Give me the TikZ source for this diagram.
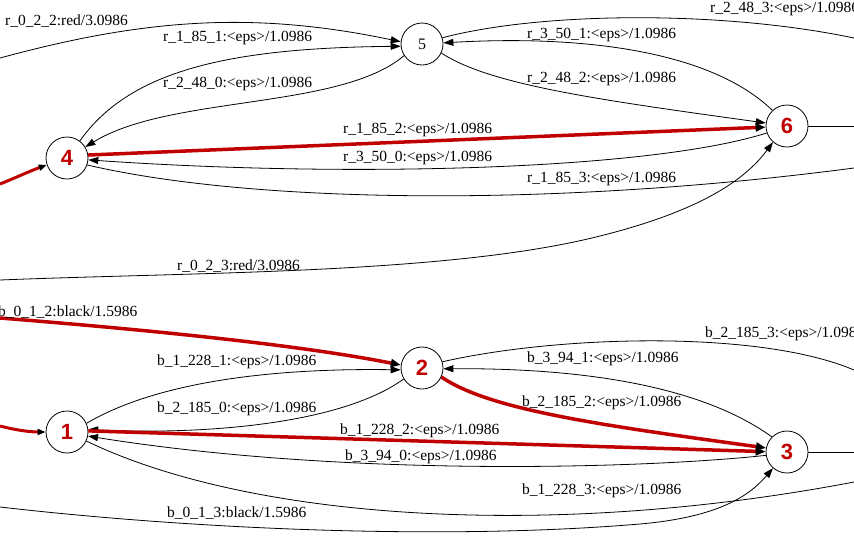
\documentclass[tikz,border=0pt]{standalone}
\usepackage{fontspec}
\setmainfont{Liberation Serif}
\newfontfamily\numfont{Liberation Sans}
\usetikzlibrary{arrows.meta}
\definecolor{dred}{RGB}{192,0,0}
\begin{document}
\begin{tikzpicture}[x=1pt,y=-1pt,
  st/.style={circle,draw,line width=0.8pt,minimum size=42pt,inner sep=0pt},
  stb/.style={st,font=\numfont\bfseries\fontsize{22}{22}\selectfont,text=dred},
  lbl/.style={font=\fontsize{15.5}{18}\selectfont,inner sep=0pt,anchor=west},
  edge/.style={line width=0.8pt,-{Triangle[length=10pt,width=7pt]}},
  plain/.style={line width=0.8pt},
  redge/.style={line width=3.5pt,dred,-{Triangle[length=10pt,width=8pt,color=black]}},
  redinit/.style={line width=3pt,dred,-{Triangle[length=8pt,width=6pt,color=black]}}]
\clip (0,0) rectangle (854,544);
\fill[white] (0,0) rectangle (854,544);
% states
\node[st,font=\fontsize{16}{16}\selectfont] (n5) at (422,44) {5};
\node[stb] (n6) at (787,126) {6};
\node[stb] (n4) at (67,158) {4};
\node[stb] (n2) at (422,368) {2};
\node[stb] (n1) at (67,432) {1};
\node[stb] (n3) at (787,452) {3};
% free ends
\coordinate (a1) at (0,58);
\coordinate (a2) at (854,38);
\coordinate (a3) at (854,126);
\coordinate (a4) at (854,168);
\coordinate (a5) at (0,280);
\coordinate (a6) at (0,184);
\coordinate (b1) at (0,318);
\coordinate (b2) at (854,370);
\coordinate (b3) at (854,452);
\coordinate (b4) at (854,482);
\coordinate (b5) at (0,507);
\coordinate (b6) at (0,426);
% top edges
\draw[edge] (a1) .. controls (140,20) and (250,10) .. (n5.174);
\draw[edge] (n4.53) .. controls (130,70) and (230,48) .. (n5.186);
\draw[edge] (n5.213) .. controls (340,110) and (170,95) .. (n4.31);
\draw[edge] (n6.133) .. controls (710,50) and (580,35) .. (n5.3);
\draw[edge] (n5.335) .. controls (490,85) and (600,100) .. (n6.172);
\draw[plain] (n5.17) .. controls (540,12) and (720,10) .. (a2);
\draw[edge] (n6.199) .. controls (650,170) and (350,178) .. (n4.355);
\draw[plain] (n4.341) .. controls (250,203) and (550,208) .. (a4);
\draw[edge] (a5) .. controls (200,272) and (450,274) .. (600,236) .. controls (700,211) and (745,180) .. (n6.229);
\draw[plain] (n6) -- (a3);
\draw[redge] (n4.8) -- (n6.183);
\draw[redinit] (a6) .. controls (15,178) and (30,171) .. (n4.199);
% bottom edges
\draw[edge] (n1.24) .. controls (160,380) and (280,368) .. (n2.185);
\draw[edge] (n2.211) .. controls (340,425) and (200,435) .. (n1.7);
\draw[edge] (n3.135) .. controls (700,385) and (580,368) .. (n2.358);
\draw[plain] (n2.17) .. controls (560,335) and (760,330) .. (b2);
\draw[edge] (n3.189) .. controls (650,468) and (350,478) .. (n1.349);
\draw[plain] (n1.335) .. controls (250,520) and (550,540) .. (b4);
\draw[edge] (b5) .. controls (200,530) and (450,540) .. (640,524) .. controls (720,517) and (750,495) .. (n3.229);
\draw[plain] (n3) -- (b3);
\draw[redge] (b1) .. controls (150,330) and (300,345) .. (n2.172);
\draw[redge] (n2.335) .. controls (490,410) and (600,425) .. (n3.169);
\draw[redge] (n1.3) -- (n3.179);
\draw[redinit] (b6) .. controls (15,430) and (30,432) .. (n1.180);
% labels
\node[lbl] (t1) at (5,21) {r\_0\_2\_2:red/3.0986};
\node[lbl] (t2) at (163,38) {r\_1\_85\_1:<eps>/1.0986};
\node[lbl] (t3) at (163,84) {r\_2\_48\_0:<eps>/1.0986};
\node[lbl] (t4) at (527,35) {r\_3\_50\_1:<eps>/1.0986};
\node[lbl] (t5) at (527,79) {r\_2\_48\_2:<eps>/1.0986};
\node[lbl] (t6) at (710,9) {r\_2\_48\_3:<eps>/1.0986};
\node[lbl] (t7) at (343,130) {r\_1\_85\_2:<eps>/1.0986};
\node[lbl] (t8) at (343,158) {r\_3\_50\_0:<eps>/1.0986};
\node[lbl] (t9) at (527,179) {r\_1\_85\_3:<eps>/1.0986};
\node[lbl] (t10) at (177,266) {r\_0\_2\_3:red/3.0986};
\node[lbl] (u1) at (-2,312) {b\_0\_1\_2:black/1.5986};
\node[lbl] (u2) at (157,362) {b\_1\_228\_1:<eps>/1.0986};
\node[lbl] (u3) at (157,409) {b\_2\_185\_0:<eps>/1.0986};
\node[lbl] (u4) at (527,359) {b\_3\_94\_1:<eps>/1.0986};
\node[lbl] (u5) at (522,403) {b\_2\_185\_2:<eps>/1.0986};
\node[lbl] (u6) at (705,334) {b\_2\_185\_3:<eps>/1.0986};
\node[lbl] (u7) at (340,431) {b\_1\_228\_2:<eps>/1.0986};
\node[lbl] (u8) at (345,457) {b\_3\_94\_0:<eps>/1.0986};
\node[lbl] (u9) at (522,491) {b\_1\_228\_3:<eps>/1.0986};
\node[lbl] (u10) at (167,513) {b\_0\_1\_3:black/1.5986};
\end{tikzpicture}
\end{document}
